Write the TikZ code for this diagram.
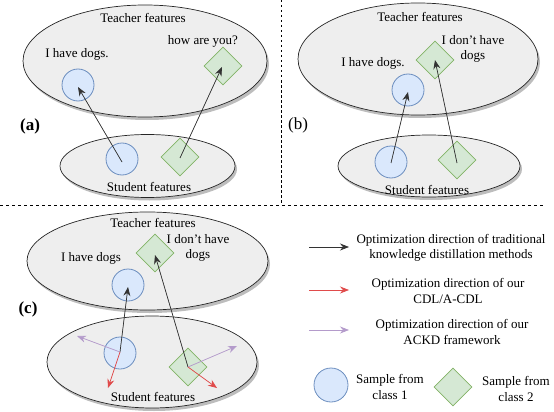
\documentclass[tikz,border=0pt]{standalone}
\usepackage{fontspec}
\setmainfont{Liberation Serif}
\usetikzlibrary{arrows.meta,shapes.geometric}
\definecolor{ellfill}{HTML}{EEEEEE}
\definecolor{ellshadow}{HTML}{BDBDBD}
\definecolor{cfill}{HTML}{DAE8FC}
\definecolor{cdraw}{HTML}{6C8EBF}
\definecolor{dfill}{HTML}{D5E8D4}
\definecolor{ddraw}{HTML}{82B366}
\definecolor{arrblack}{HTML}{333333}
\definecolor{arrred}{HTML}{E04B4B}
\definecolor{arrpurple}{HTML}{B49BCB}
\begin{document}
\begin{tikzpicture}[x=1pt,y=-1pt,
  every node/.style={font=\fontsize{13}{15.5}\selectfont, inner sep=0pt, text=black},
  txt/.style={align=center},
  panellabel/.style={font=\fontsize{17}{20}\selectfont},
  sample1/.style={circle, draw=cdraw, fill=cfill, line width=0.8pt, minimum size=32pt},
  sample2/.style={diamond, draw=ddraw, fill=dfill, line width=0.8pt, minimum size=38pt},
  tip/.style={-{Stealth[length=9pt,width=7pt,inset=3pt]}},
  blk/.style={tip, draw=arrblack, fill=arrblack, line width=0.7pt},
  redarr/.style={tip, draw=arrred, fill=arrred, line width=0.7pt},
  purarr/.style={tip, draw=arrpurple, fill=arrpurple, line width=0.7pt},
]
\useasboundingbox (0,0) rectangle (554,412);
\newcommand{\featell}[4]{%
  \fill[ellshadow] (#1+2,#2+3) ellipse [x radius=#3, y radius=#4];
  \filldraw[fill=ellfill, draw=black!85, line width=0.7pt] (#1,#2) ellipse [x radius=#3, y radius=#4];}

% separators
\draw[black, line width=0.8pt, dash pattern=on 2.5pt off 2.5pt] (281,0) -- (281,203);
\draw[black, line width=0.8pt, dash pattern=on 3pt off 3pt] (0,205) -- (545,205);

% ---------- panel (a)
\featell{145}{61}{122}{56}
\featell{147.5}{166}{87.5}{31.5}
\node (ta) at (143,18) {Teacher features};
\node (ha) at (77,54) {I have dogs.};
\node (wa) at (203,41) {how are you?};
\node[sample1] (tca) at (78,85) {};
\node[sample2] (tda) at (223,66) {};
\node[panellabel, font=\fontsize{17}{20}\selectfont\bfseries] (la) at (30,126) {(a)};
\node[sample1] (sca) at (122,159) {};
\node[sample2] (sda) at (180,157) {};
\node (sa) at (149,187) {Student features};
\coordinate (sca0) at (122,162);
\coordinate (sda0) at (180,158);
\coordinate (tca0) at (78,87);
\coordinate (tda0) at (222,67);
\draw[blk] (sca0) -- (tca0);
\draw[blk] (sda0) -- (tda0);

% ---------- panel (b)
\featell{418}{59}{120}{56}
\featell{429}{166}{91}{31}
\node (tb) at (420,17) {Teacher features};
\node (hb) at (373,63) {I have dogs.};
\node[txt] (db) at (473,49) {I don't have\\dogs};
\node[sample1] (tcb) at (408,90) {};
\node[sample2] (tdb) at (435,60) {};
\node[panellabel] (lb) at (298,125) {(b)};
\node[sample1] (scb) at (391,162) {};
\node[sample2] (sdb) at (457,160) {};
\node (sb) at (427,190) {Student features};
\coordinate (scb0) at (391,163);
\coordinate (sdb0) at (457,163);
\coordinate (tcb0) at (408,92);
\coordinate (tdb0) at (435,60);
\draw[blk] (scb0) -- (tcb0);
\draw[blk] (sdb0) -- (tdb0);

% ---------- panel (c)
\featell{147.5}{261}{120.5}{49}
\featell{152}{362}{105}{46}
\node (tc) at (153,223) {Teacher features};
\node (hc) at (91,258) {I have dogs};
\node[txt] (dc) at (198,248) {I don't have\\dogs};
\node[sample1] (tcc) at (128,285) {};
\node[sample2] (tdc) at (155,253) {};
\node[panellabel, font=\fontsize{17}{20}\selectfont\bfseries] (lc) at (28,309) {(c)};
\node[sample1] (scc) at (120,353) {};
\node[sample2] (sdc) at (188,367) {};
\node (sc) at (153,397) {Student features};
\coordinate (scc0) at (120,352);
\coordinate (sdc0) at (188,367);
\coordinate (tcc0) at (128,287);
\coordinate (tdc0) at (155,255);
\coordinate (pc1) at (77,336);
\coordinate (pc2) at (237,346);
\coordinate (rc1) at (108,388);
\coordinate (rc2) at (217,388);
\draw[blk] (scc0) -- (tcc0);
\draw[blk] (sdc0) -- (tdc0);
\draw[purarr] (scc0) -- (pc1);
\draw[purarr] (sdc0) -- (pc2);
\draw[redarr] (scc0) -- (rc1);
\draw[redarr] (sdc0) -- (rc2);

% ---------- legend
\coordinate (k1a) at (309,247); \coordinate (k1b) at (349,247);
\coordinate (k2a) at (309,290); \coordinate (k2b) at (349,290);
\coordinate (k3a) at (309,330); \coordinate (k3b) at (349,330);
\draw[blk] (k1a) -- (k1b);
\draw[redarr] (k2a) -- (k2b);
\draw[purarr] (k3a) -- (k3b);
\node[txt] (t1) at (451,248) {Optimization direction of traditional\\knowledge distillation methods};
\node[txt] (t2) at (448,291) {Optimization direction of our\\CDL/A-CDL};
\node[txt] (t3) at (452,332) {Optimization direction of our\\ACKD framework};
\node[sample1, minimum size=34pt] (kc) at (331,385) {};
\node[txt] (kct) at (390,387) {Sample from\\class 1};
\node[sample2] (kd) at (453,387) {};
\node[txt] (kdt) at (516,389) {Sample from\\class 2};
\end{tikzpicture}
\end{document}
